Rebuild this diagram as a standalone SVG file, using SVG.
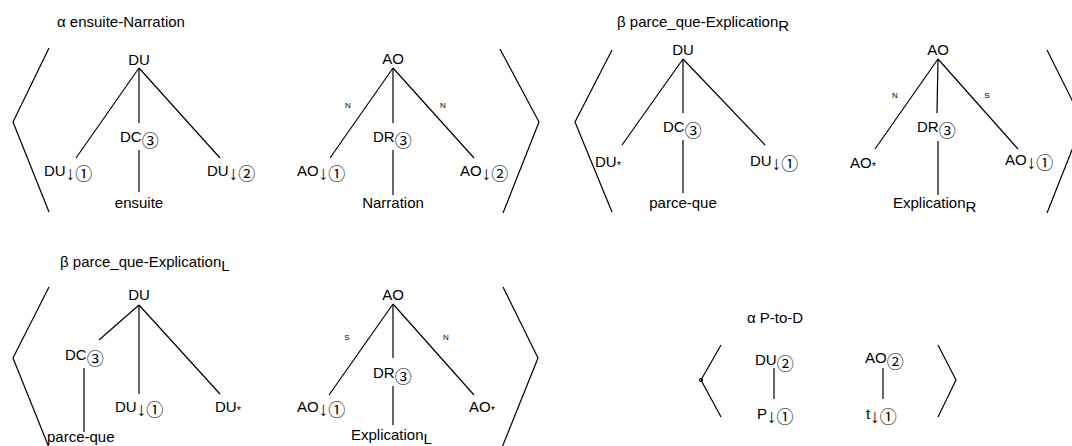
<svg xmlns="http://www.w3.org/2000/svg" width="1072" height="446" viewBox="0 0 1072 446">
<style>
text{font-family:"Liberation Sans",Arial,sans-serif;font-size:15px;fill:#000}
.m{text-anchor:middle}
.e{font-size:8px;text-anchor:middle}
.ar{font-family:"Liberation Sans",sans-serif;font-size:19px}
.cn{font-family:"Noto Sans CJK JP",sans-serif;font-size:17px}
.st{font-size:11px}
line,polyline{stroke:#000;stroke-width:1.2;fill:none}
</style>
<rect width="1072" height="446" fill="#fff"/>
<g id="titles">
<text x="57" y="27">α ensuite-Narration</text>
<text x="617" y="27">β parce_que-Explication<tspan dy="4">R</tspan></text>
<text x="60" y="267">β parce_que-Explication<tspan dy="4">L</tspan></text>
<text x="747" y="323">α P-to-D</text>
</g>
<g id="brackets">
<polyline points="49,48 13,122 49,212"/>
<polyline points="500,49 539,122 503,213"/>
<polyline points="612,50 575,122 612,212"/>
<polyline points="1047,50 1083,122 1047,213"/>
<polyline points="49,287 13,358 50,450"/>
<polyline points="503,287 538,358 501,450"/>
<polyline points="721,345 701,380 721,417"/>
<circle cx="701" cy="380" r="1.6" fill="none" stroke="#000" stroke-width="1"/>
<polyline points="938,345 956,380 938,417"/>
</g>
<g id="connectors">
<line x1="139" y1="68" x2="76" y2="158"/>
<line x1="139" y1="68" x2="139" y2="123"/>
<line x1="139" y1="68" x2="220" y2="158"/>
<line x1="139" y1="150" x2="139" y2="192"/>
<line x1="393" y1="68" x2="330" y2="158"/>
<line x1="393" y1="68" x2="393" y2="123"/>
<line x1="393" y1="68" x2="474" y2="158"/>
<line x1="393" y1="150" x2="393" y2="195"/>
<line x1="683" y1="59" x2="622" y2="145"/>
<line x1="683" y1="59" x2="683" y2="113"/>
<line x1="683" y1="59" x2="765" y2="145"/>
<line x1="683" y1="140" x2="683" y2="193"/>
<line x1="938" y1="59" x2="875" y2="149"/>
<line x1="938" y1="59" x2="937" y2="113"/>
<line x1="938" y1="59" x2="1018" y2="149"/>
<line x1="938" y1="141" x2="938" y2="195"/>
<line x1="139" y1="305" x2="99" y2="340"/>
<line x1="139" y1="305" x2="139" y2="394"/>
<line x1="139" y1="305" x2="220" y2="394"/>
<line x1="84" y1="368" x2="84" y2="432"/>
<line x1="393" y1="304" x2="329" y2="395"/>
<line x1="393" y1="304" x2="393" y2="358"/>
<line x1="393" y1="304" x2="474" y2="395"/>
<line x1="393" y1="386" x2="393" y2="425"/>
<line x1="774" y1="368" x2="774" y2="399"/>
<line x1="883" y1="368" x2="883" y2="399"/>
<text class="e" x="348" y="108">N</text>
<text class="e" x="443" y="108">N</text>
<text class="e" x="895" y="98">N</text>
<text class="e" x="987" y="98">S</text>
<text class="e" x="347" y="340">S</text>
<text class="e" x="446" y="340">N</text>
</g>
<g id="n1"><text class="m" x="139" y="65">DU</text></g>
<g id="n2"><text x="120" y="142">DC<tspan class="cn" dy="5">③</tspan></text></g>
<g id="n3"><text class="m" x="139" y="208">ensuite</text></g>
<g id="n4"><text x="44" y="176">DU<tspan class="ar" dy="4">↓</tspan><tspan class="cn">①</tspan></text></g>
<g id="n5"><text x="207" y="176">DU<tspan class="ar" dy="4">↓</tspan><tspan class="cn">②</tspan></text></g>
<g id="n6"><text class="m" x="393" y="64">AO</text></g>
<g id="n7"><text x="373" y="142">DR<tspan class="cn" dy="5">③</tspan></text></g>
<g id="n8"><text class="m" x="393" y="208">Narration</text></g>
<g id="n9"><text x="297" y="176">AO<tspan class="ar" dy="4">↓</tspan><tspan class="cn">①</tspan></text></g>
<g id="n10"><text x="460" y="176">AO<tspan class="ar" dy="4">↓</tspan><tspan class="cn">②</tspan></text></g>
<g id="n11"><text class="m" x="683" y="55">DU</text></g>
<g id="n12"><text x="663" y="132">DC<tspan class="cn" dy="5">③</tspan></text></g>
<g id="n13"><text class="m" x="683" y="208">parce-que</text></g>
<g id="n14"><text x="595" y="167">DU<tspan class="st" dy="2">*</tspan></text></g>
<g id="n15"><text x="750" y="166">DU<tspan class="ar" dy="4">↓</tspan><tspan class="cn">①</tspan></text></g>
<g id="n16"><text class="m" x="938" y="55">AO</text></g>
<g id="n17"><text x="917" y="132">DR<tspan class="cn" dy="5">③</tspan></text></g>
<g id="n18"><text x="893" y="208">Explication<tspan dy="4">R</tspan></text></g>
<g id="n19"><text x="850" y="168">AO<tspan class="st" dy="2">*</tspan></text></g>
<g id="n20"><text x="1005" y="165">AO<tspan class="ar" dy="4">↓</tspan><tspan class="cn">①</tspan></text></g>
<g id="n21"><text class="m" x="139" y="300">DU</text></g>
<g id="n22"><text x="65" y="360">DC<tspan class="cn" dy="5">③</tspan></text></g>
<g id="n23"><text x="47" y="442">parce-que</text></g>
<g id="n24"><text x="115" y="412">DU<tspan class="ar" dy="4">↓</tspan><tspan class="cn">①</tspan></text></g>
<g id="n25"><text x="215" y="412">DU<tspan class="st" dy="2">*</tspan></text></g>
<g id="n26"><text class="m" x="393" y="300">AO</text></g>
<g id="n27"><text x="373" y="378">DR<tspan class="cn" dy="5">③</tspan></text></g>
<g id="n28"><text x="351" y="440">Explication<tspan dy="4">L</tspan></text></g>
<g id="n29"><text x="297" y="412">AO<tspan class="ar" dy="4">↓</tspan><tspan class="cn">①</tspan></text></g>
<g id="n30"><text x="469" y="412">AO<tspan class="st" dy="2">*</tspan></text></g>
<g id="n31"><text x="755" y="365">DU<tspan class="cn" dy="5">②</tspan></text></g>
<g id="n32"><text x="757" y="419">P<tspan class="ar" dy="4">↓</tspan><tspan class="cn">①</tspan></text></g>
<g id="n33"><text x="865" y="363">AO<tspan class="cn" dy="5">②</tspan></text></g>
<g id="n34"><text x="866" y="419">t<tspan class="ar" dy="4">↓</tspan><tspan class="cn">①</tspan></text></g>
</svg>
